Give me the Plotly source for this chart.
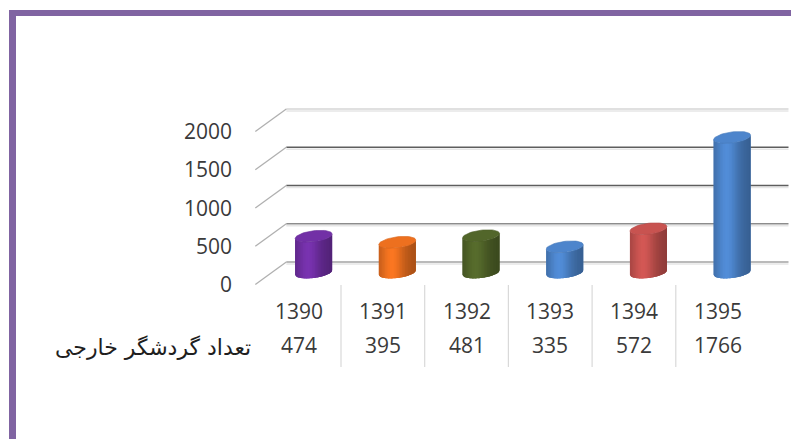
import math
import plotly.graph_objects as go

# ---- data ----
years = ["1390", "1391", "1392", "1393", "1394", "1395"]
tourists = [474, 395, 481, 335, 572, 1766]
series_name = "تعداد گردشگر خارجی"
bar_colors = ["#6E2EA0", "#E46C1E", "#4F6228", "#4A80C4", "#C0504D", "#4A80C4"]
y_ticks = [0, 500, 1000, 1500, 2000]

# ---- canvas geometry (pixels) ----
W, H = 791, 439
COL = 83.7                 # width of one category column
UNIT = 153 / 2000          # pixels per value unit
FRONT_LEFT, FRONT_FLOOR = 257.3, 283.0
DEPTH_X, DEPTH_Y = 29.0, 21.0      # back wall offset (right, up)
MID_LEFT = FRONT_LEFT + DEPTH_X / 2
MID_FLOOR = FRONT_FLOOR - DEPTH_Y / 2
BACK_LEFT = FRONT_LEFT + DEPTH_X
BACK_FLOOR = FRONT_FLOOR - DEPTH_Y

R_PX = 18.5     # cylinder radius on screen
E_PX = 5.5      # half height of the end ellipses
SHEAR = 0.12    # ellipse tilt

Y_LO, Y_HI = -300, 2300


def px(x):
    return x / W


def py(y):
    return 1 - y / H


def hex_rgb(c):
    c = c.lstrip("#")
    return tuple(int(c[i:i + 2], 16) for i in (0, 2, 4))


def shade(c, f):
    r, g, b = hex_rgb(c)
    return "rgb(%d,%d,%d)" % tuple(max(0, min(255, round(v * f))) for v in (r, g, b))


fig = go.Figure()

unit_per_px = 1 / UNIT


def ellipse_pt(cx, base, t):
    dx_px = R_PX * math.cos(t)
    dy_px = E_PX * math.sin(t) + SHEAR * dx_px
    return cx + dx_px / COL, base + dy_px * unit_per_px


def front_arc(cx, base, u):
    # lower (front) arc of an end ellipse at horizontal position u in [-1, 1]
    dx_px = R_PX * u
    dy_px = -E_PX * math.sqrt(max(0.0, 1 - u * u)) + SHEAR * dx_px
    return cx + dx_px / COL, base + dy_px * unit_per_px


def body_poly(cx, v, u0, u1, n=6):
    us = [u0 + (u1 - u0) * k / n for k in range(n + 1)]
    xs, ys = [], []
    for u in us:
        x, y = front_arc(cx, 0, u)
        xs.append(x); ys.append(y)
    for u in reversed(us):
        x, y = front_arc(cx, v, u)
        xs.append(x); ys.append(y)
    xs.append(xs[0]); ys.append(ys[0])
    return xs, ys


def light(u):
    return 0.80 + 0.30 * math.exp(-((u + 0.3) / 0.6) ** 2) - 0.06 * max(0, u) ** 2


N_STRIPS = 24
for i, (v, col) in enumerate(zip(tourists, bar_colors)):
    cx = i
    # solid body underneath, then shaded strips
    xs, ys = body_poly(cx, v, -1, 1, 40)
    fig.add_trace(go.Scatter(
        x=xs, y=ys, fill="toself", mode="lines", fillcolor=shade(col, 0.9),
        line=dict(width=0), hoverinfo="skip", showlegend=False))
    for s in range(N_STRIPS):
        u0 = -1 + 2 * s / N_STRIPS
        u1 = min(1.0, -1 + 2 * (s + 1.6) / N_STRIPS)
        xs, ys = body_poly(cx, v, u0, u1)
        c = shade(col, light(u0 + 1 / N_STRIPS))
        fig.add_trace(go.Scatter(
            x=xs, y=ys, fill="toself", mode="none", fillcolor=c,
            hoverinfo="skip", showlegend=False))
    # top ellipse
    ts = [2 * math.pi * k / 60 for k in range(61)]
    pts = [ellipse_pt(cx, v, t) for t in ts]
    fig.add_trace(go.Scatter(
        x=[p[0] for p in pts], y=[p[1] for p in pts], fill="toself", mode="lines",
        fillcolor=shade(col, 1.04), line=dict(color=shade(col, 0.95), width=0.6),
        hoverinfo="skip", showlegend=False, name=years[i]))

shapes = []

# purple frame
shapes.append(dict(type="rect", xref="paper", yref="paper",
                   x0=px(9), x1=px(16), y0=py(439), y1=py(10),
                   fillcolor="#8064A2", line=dict(width=0), layer="below"))
shapes.append(dict(type="rect", xref="paper", yref="paper",
                   x0=px(9), x1=px(791), y0=py(16), y1=py(10),
                   fillcolor="#8064A2", line=dict(width=0), layer="below"))

# back-wall gridlines and floor diagonals
grid_colors = {0: "#a3a3a3", 500: "#8c8c8c", 1000: "#5e5e5e", 1500: "#5e5e5e", 2000: "#d6d6d6"}
for t in y_ticks:
    yb = BACK_FLOOR - t * UNIT
    yf = FRONT_FLOOR - t * UNIT
    shapes.append(dict(type="line", xref="paper", yref="paper",
                       x0=px(BACK_LEFT), x1=px(BACK_LEFT + 6 * COL),
                       y0=py(yb + 2), y1=py(yb + 2),
                       line=dict(color="#e6e6e6", width=1.5), layer="below"))
    shapes.append(dict(type="line", xref="paper", yref="paper",
                       x0=px(BACK_LEFT), x1=px(BACK_LEFT + 6 * COL),
                       y0=py(yb), y1=py(yb),
                       line=dict(color=grid_colors[t], width=1.4), layer="below"))
    shapes.append(dict(type="line", xref="paper", yref="paper",
                       x0=px(FRONT_LEFT - 2), x1=px(BACK_LEFT),
                       y0=py(yf + 1.5), y1=py(yb),
                       line=dict(color="#b0b0b0", width=1.3), layer="below"))

# data table separators
for k in range(1, 6):
    xk = FRONT_LEFT + k * COL
    shapes.append(dict(type="line", xref="paper", yref="paper",
                       x0=px(xk), x1=px(xk), y0=py(285), y1=py(367),
                       line=dict(color="#d9d9d9", width=1.2), layer="below"))

annotations = []
num_font = dict(family="Open Sans", size=21, color="#3a3a3a")

# value axis labels
for t in y_ticks:
    annotations.append(dict(xref="paper", yref="paper", x=px(234), y=py(FRONT_FLOOR - t * UNIT + 1),
                            text=str(t), showarrow=False, xanchor="right", yanchor="middle",
                            font=num_font))

# data table rows
for i, (yr, v) in enumerate(zip(years, tourists)):
    cxp = FRONT_LEFT + COL * (i + 0.5)
    annotations.append(dict(xref="paper", yref="paper", x=px(cxp), y=py(311),
                            text=yr, showarrow=False, xanchor="center", yanchor="middle",
                            font=num_font))
    annotations.append(dict(xref="paper", yref="paper", x=px(cxp), y=py(345),
                            text=str(v), showarrow=False, xanchor="center", yanchor="middle",
                            font=num_font))
annotations.append(dict(xref="paper", yref="paper", x=px(253), y=py(347),
                        text=series_name, showarrow=False, xanchor="right", yanchor="middle",
                        font=dict(family="DejaVu Sans", size=22, color="#1e1e1e")))

x_dom = [px(MID_LEFT), px(MID_LEFT + 6 * COL)]
y_dom = [py(MID_FLOOR - Y_LO * UNIT), py(MID_FLOOR - Y_HI * UNIT)]

fig.update_layout(
    width=W, height=H,
    margin=dict(l=0, r=0, t=0, b=0),
    paper_bgcolor="white", plot_bgcolor="rgba(0,0,0,0)",
    xaxis=dict(domain=x_dom, range=[-0.5, 5.5], visible=False, fixedrange=True),
    yaxis=dict(domain=y_dom, range=[Y_LO, Y_HI], visible=False, fixedrange=True),
    shapes=shapes, annotations=annotations, showlegend=False,
)

fig.write_html("out.html")
